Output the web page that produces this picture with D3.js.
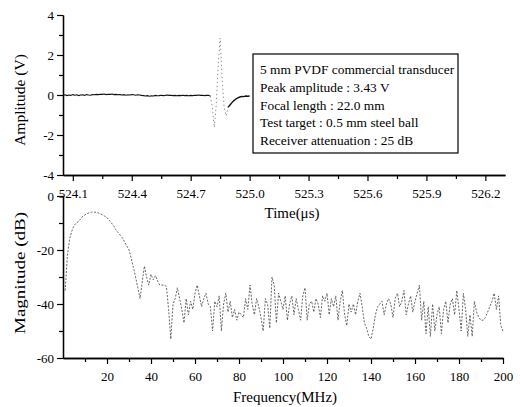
<!DOCTYPE html>
<html>
<head>
<meta charset="utf-8">
<script src="https://cdn.jsdelivr.net/npm/d3@7/dist/d3.min.js"></script>
<style>
  html, body { margin: 0; padding: 0; background: #fff; }
  svg { display: block; }
  text { font-family: "Liberation Serif", "Times New Roman", serif; fill: #000; }
</style>
</head>
<body>
<svg id="chart" width="520" height="407"></svg>
<script>
// ---------------- DATA ----------------
// Time-domain echo (µs, V): sampled every 0.01 µs from 524.05
const timeStart = 524.05;
const timeStep = 0.01;
const amplitude = [
  -0.02, 0.01, -0.03, 0.00, -0.02, 0.02, -0.01, 0.01, -0.03, 0.00,
   0.01, -0.02, 0.02, 0.00, -0.01, 0.02, 0.01, 0.03, 0.02, 0.04,
   0.03, 0.05, 0.02, 0.04, 0.03, 0.05, 0.02, 0.03, 0.01, 0.02,
   0.00, 0.02, -0.01, 0.01, 0.00, 0.02, 0.01, -0.01, 0.01, 0.00,
  -0.02, -0.03, -0.05, -0.03, -0.06, -0.04, -0.05, -0.02, -0.04, -0.03,
  -0.01, -0.03, -0.02, 0.00, -0.02, -0.01, -0.03, -0.02, -0.04, -0.02,
  -0.03, -0.01, -0.03, -0.02, -0.04, -0.02, -0.03, -0.01, -0.02, 0.00,
  -0.02, -0.01, -0.03, -0.02, -0.01, -0.05,
  -0.60, -1.62, -0.50, 1.50, 2.85, 0.80, -0.60, -1.05, -0.62, -0.50,
  -0.38, -0.28, -0.20, -0.14, -0.10, -0.07, -0.08, -0.05, -0.06, -0.05
];
const pulseStart = 524.80, pulseEnd = 524.89;

// Spectrum (MHz, dB): every 1 MHz from 1 to 200
const freqStart = 1;
const freqStep = 1;
const magnitude = [
  -35, -22, -16, -13, -11, -10, -9.5, -8.5, -7.5, -7,
  -6.5, -6.2, -6, -6, -6, -6.3, -6.6, -7, -7.5, -8,
  -9, -10, -11, -12.5, -13.5, -14.5, -15.5, -17, -18.5, -20,
  -23, -26.5, -30, -34, -38, -32, -26, -30, -33, -29,
  -31, -29.5, -31.5, -33, -33, -33, -33.5, -42, -53, -40,
  -38, -34, -38, -42, -47, -38, -44, -39, -42, -36,
  -33, -37, -41, -38, -36, -40, -41, -50, -39, -41,
  -37, -50, -40, -36, -43, -39, -45, -42, -46, -43,
  -44, -45, -38, -42, -33, -40, -44, -38, -41, -45,
  -50, -38, -40, -49, -30, -33, -47, -36, -39, -42,
  -37, -46, -40, -37, -44, -38, -42, -46, -37, -34,
  -46, -40, -39, -43, -38, -40, -45, -37, -39, -36,
  -44, -38, -41, -37, -46, -39, -35, -44, -48, -40,
  -43, -40, -44, -39, -36, -41, -47, -49, -52, -53,
  -49, -44, -41, -40, -39, -44, -40, -38, -40, -45,
  -38, -36, -41, -39, -35, -44, -40, -37, -43, -39,
  -36, -33, -46, -39, -51, -41, -52, -40, -50, -44,
  -41, -51, -42, -39, -47, -40, -38, -44, -35, -42,
  -50, -36, -42, -52, -44, -52, -39, -43, -45, -46,
  -46, -45, -43, -41, -39, -36, -42, -37, -48, -50
];

// Tick labels
const timeTicks = [524.1, 524.4, 524.7, 525.0, 525.3, 525.6, 525.9, 526.2];
const timeMinor = [524.25, 524.55, 524.85, 525.15, 525.45, 525.75, 526.05];
const ampTicks = [-4, -2, 0, 2, 4];
const ampMinor = [-3, -1, 1, 3];
const freqTicks = [20, 40, 60, 80, 100, 120, 140, 160, 180, 200];
const freqMinor = [10, 30, 50, 70, 90, 110, 130, 150, 170, 190];
const magTicks = [0, -20, -40, -60];
const magMinor = [-10, -30, -50];

const legendLines = [
  "5 mm PVDF commercial transducer",
  "Peak amplitude : 3.43 V",
  "Focal length : 22.0 mm",
  "Test target : 0.5 mm steel ball",
  "Receiver attenuation : 25 dB"
];

// ---------------- DRAW ----------------
const svg = d3.select("#chart");

const xT = d3.scaleLinear().domain([524.05, 526.3]).range([63, 505]);
const yT = d3.scaleLinear().domain([-4, 4]).range([175, 15]);
const xF = d3.scaleLinear().domain([0, 200]).range([63, 503]);
const yF = d3.scaleLinear().domain([-60, 0]).range([358, 196]);

function styleAxis(g, fs) {
  g.select(".domain").attr("stroke", "#000").attr("stroke-width", 1.3);
  g.selectAll(".tick line").attr("stroke", "#000").attr("stroke-width", 1.2);
  g.selectAll("text").attr("font-size", fs).attr("font-family", "Liberation Serif, serif").attr("fill", "#000");
}

// ---- top panel ----
const tmMinor = svg.append("g").attr("transform", `translate(0,${yT(-4)})`)
  .call(d3.axisBottom(xT).tickValues(timeMinor).tickSize(4).tickFormat("").tickSizeOuter(0));
styleAxis(tmMinor, 13);
const tmMajor = svg.append("g").attr("transform", `translate(0,${yT(-4)})`)
  .call(d3.axisBottom(xT).tickValues(timeTicks).tickSize(6).tickPadding(8).tickFormat(d3.format(".1f")).tickSizeOuter(0));
styleAxis(tmMajor, 13);

const amMinor = svg.append("g").attr("transform", `translate(${xT(524.05)},0)`)
  .call(d3.axisLeft(yT).tickValues(ampMinor).tickSize(4).tickFormat("").tickSizeOuter(0));
styleAxis(amMinor, 13);
const amMajor = svg.append("g").attr("transform", `translate(${xT(524.05)},0)`)
  .call(d3.axisLeft(yT).tickValues(ampTicks).tickSize(6).tickPadding(3).tickFormat(d3.format("d")).tickSizeOuter(0));
styleAxis(amMajor, 13);
amMajor.selectAll("text").text(d => d < 0 ? "-" + Math.abs(d) : d);

const timeData = amplitude.map((v, i) => ({ t: timeStart + i * timeStep, v }));
const lineT = d3.line().x(d => xT(d.t)).y(d => yT(d.v));
const tol = 1e-6;
const basePre = timeData.filter(d => d.t <= pulseStart + tol);
const pulse = timeData.filter(d => d.t >= pulseStart - tol && d.t <= pulseEnd + tol);
const basePost = timeData.filter(d => d.t >= pulseEnd - tol);
svg.append("path").datum(basePre).attr("d", lineT)
  .attr("fill", "none").attr("stroke", "#111").attr("stroke-width", 1.1);
svg.append("path").datum(pulse).attr("d", lineT)
  .attr("fill", "none").attr("stroke", "#888").attr("stroke-width", 0.9).attr("stroke-dasharray", "1.5,2.5");
svg.append("path").datum(basePost).attr("d", lineT)
  .attr("fill", "none").attr("stroke", "#111").attr("stroke-width", 1.4);

svg.append("text").attr("x", 292).attr("y", 218).attr("text-anchor", "middle")
  .attr("font-size", 15).text("Time(μs)");
svg.append("text").attr("transform", "translate(25,100) rotate(-90)")
  .attr("text-anchor", "middle").attr("font-size", 15.5).text("Amplitude (V)");

// legend
svg.append("rect").attr("x", 253).attr("y", 54).attr("width", 205).attr("height", 99)
  .attr("fill", "#fff").attr("stroke", "#000").attr("stroke-width", 1.2);
svg.selectAll("text.leg").data(legendLines).enter().append("text")
  .attr("class", "leg").attr("x", 260).attr("y", (d, i) => 74 + i * 17.8)
  .attr("font-size", 13.4).text(d => d);

// ---- bottom panel ----
const fqMinor = svg.append("g").attr("transform", `translate(0,${yF(-60)})`)
  .call(d3.axisBottom(xF).tickValues(freqMinor).tickSize(4).tickFormat("").tickSizeOuter(0));
styleAxis(fqMinor, 13);
const fqMajor = svg.append("g").attr("transform", `translate(0,${yF(-60)})`)
  .call(d3.axisBottom(xF).tickValues(freqTicks).tickSize(6).tickPadding(8).tickFormat(d3.format("d")).tickSizeOuter(0));
styleAxis(fqMajor, 13);

const mgMinor = svg.append("g").attr("transform", `translate(${xF(0)},0)`)
  .call(d3.axisLeft(yF).tickValues(magMinor).tickSize(4).tickFormat("").tickSizeOuter(0));
styleAxis(mgMinor, 13);
const mgMajor = svg.append("g").attr("transform", `translate(${xF(0)},0)`)
  .call(d3.axisLeft(yF).tickValues(magTicks).tickSize(6).tickPadding(3).tickFormat(d3.format("d")).tickSizeOuter(0));
styleAxis(mgMajor, 13);
mgMajor.selectAll("text").text(d => d < 0 ? "-" + Math.abs(d) : d);

const specData = magnitude.map((v, i) => ({ f: freqStart + i * freqStep, v }));
const lineF = d3.line().x(d => xF(d.f)).y(d => yF(d.v));
svg.append("path").datum(specData).attr("d", lineF)
  .attr("fill", "none").attr("stroke", "#555").attr("stroke-width", 0.9)
  .attr("stroke-dasharray", "2,1.5");

svg.append("text").attr("x", 285).attr("y", 402).attr("text-anchor", "middle")
  .attr("font-size", 15).text("Frequency(MHz)");
svg.append("text").attr("transform", "translate(25,273) rotate(-90)")
  .attr("text-anchor", "middle").attr("font-size", 15.5)
  .attr("textLength", 122).attr("lengthAdjust", "spacingAndGlyphs").text("Magnitude (dB)");
</script>
</body>
</html>
